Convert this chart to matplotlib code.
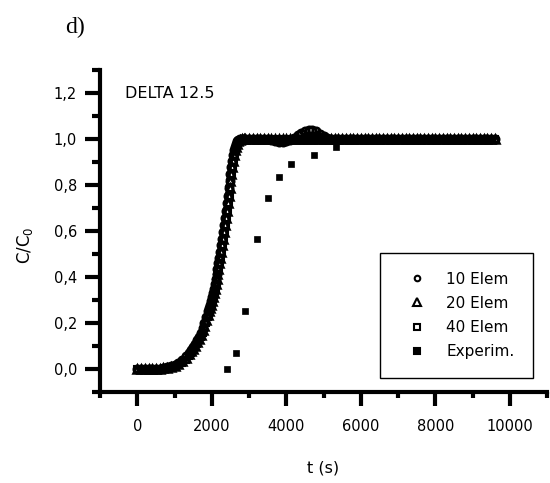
import matplotlib
matplotlib.use('Agg')
import matplotlib.pyplot as plt
from matplotlib.ticker import MultipleLocator, FuncFormatter

# simulated curves (time grid in s)
t_sim = [0, 100, 200, 300, 400, 500, 600, 700, 800, 900, 1000, 1100, 1200, 1300, 1400,
         1450, 1500, 1550, 1600, 1650, 1700, 1750, 1800, 1850, 1900,
         1925, 1950, 1975, 2000, 2025, 2050, 2075, 2100, 2125, 2150, 2175, 2200, 2225, 2250,
         2275, 2300, 2325, 2350, 2375, 2400, 2425, 2450, 2475, 2500, 2525, 2550, 2575, 2600,
         2625, 2650, 2675, 2700, 2750, 2800, 2850, 2900,
         3000, 3100, 3200, 3300, 3400, 3500, 3600, 3700, 3800, 3900, 4000, 4100, 4200, 4300,
         4400, 4500, 4600, 4700, 4800, 4900, 5000, 5100, 5200, 5300, 5400, 5500, 5600, 5700,
         5800, 5900, 6000, 6100, 6200, 6300, 6400, 6500, 6600, 6700, 6800, 6900, 7000, 7100,
         7200, 7300, 7400, 7500, 7600, 7700, 7800, 7900, 8000, 8100, 8200, 8300, 8400, 8500,
         8600, 8700, 8800, 8900, 9000, 9100, 9200, 9300, 9400, 9500, 9600]

c_10 = [0, 0, 0, 0, 0, 0, 0.001, 0.003, 0.006, 0.011, 0.018, 0.027, 0.04, 0.056, 0.07,
        0.082, 0.094, 0.108, 0.123, 0.139, 0.157, 0.177, 0.199, 0.223, 0.25,
        0.264, 0.279, 0.295, 0.312, 0.33, 0.349, 0.369, 0.39, 0.412, 0.435, 0.459, 0.484, 0.51, 0.537,
        0.565, 0.594, 0.624, 0.655, 0.687, 0.72, 0.753, 0.786, 0.818, 0.849, 0.878, 0.905, 0.929, 0.95,
        0.967, 0.98, 0.989, 0.994, 0.999, 1.0, 1.0, 1.0,
        1.0, 1.0, 1.0, 1.0, 1.0, 0.998, 0.994, 0.989, 0.985, 0.985, 0.989, 0.996, 1.005, 1.016,
        1.027, 1.035, 1.04, 1.039, 1.033, 1.022, 1.011, 1.004, 1.0, 1.0, 1.0, 1.0, 1.0, 1.0,
        1.0, 1.0, 1.0, 1.0, 1.0, 1.0, 1.0, 1.0, 1.0, 1.0, 1.0, 1.0, 1.0, 1.0,
        1.0, 1.0, 1.0, 1.0, 1.0, 1.0, 1.0, 1.0, 1.0, 1.0, 1.0, 1.0, 1.0, 1.0,
        1.0, 1.0, 1.0, 1.0, 1.0, 1.0, 1.0, 1.0, 1.0, 1.0, 1.0]

c_20 = [0, 0, 0, 0, 0, 0, 0.001, 0.002, 0.004, 0.008, 0.014, 0.022, 0.033, 0.047, 0.065,
        0.076, 0.088, 0.101, 0.115, 0.131, 0.148, 0.167, 0.188, 0.211, 0.236,
        0.25, 0.264, 0.279, 0.295, 0.312, 0.33, 0.349, 0.369, 0.39, 0.412, 0.435, 0.459, 0.484, 0.51,
        0.537, 0.565, 0.594, 0.624, 0.655, 0.687, 0.72, 0.753, 0.786, 0.818, 0.849, 0.878, 0.905, 0.929,
        0.95, 0.967, 0.98, 0.989, 0.997, 1.0, 1.0, 1.0,
        1.0, 1.0, 1.0, 1.0, 1.0, 1.0, 1.0, 1.0, 1.0, 1.0, 1.0, 1.0, 1.0, 1.0,
        1.0, 1.0, 1.0, 1.0, 1.0, 1.0, 1.0, 1.0, 1.0, 1.0, 1.0, 1.0, 1.0, 1.0,
        1.0, 1.0, 1.0, 1.0, 1.0, 1.0, 1.0, 1.0, 1.0, 1.0, 1.0, 1.0, 1.0, 1.0,
        1.0, 1.0, 1.0, 1.0, 1.0, 1.0, 1.0, 1.0, 1.0, 1.0, 1.0, 1.0, 1.0, 1.0,
        1.0, 1.0, 1.0, 1.0, 1.0, 1.0, 1.0, 1.0, 1.0, 1.0, 1.0]

c_40 = [0, 0, 0, 0, 0, 0, 0, 0.001, 0.003, 0.006, 0.011, 0.018, 0.027, 0.04, 0.056,
        0.07, 0.082, 0.094, 0.108, 0.123, 0.139, 0.157, 0.177, 0.199, 0.223,
        0.236, 0.25, 0.264, 0.279, 0.295, 0.312, 0.33, 0.349, 0.369, 0.39, 0.412, 0.435, 0.459, 0.484,
        0.51, 0.537, 0.565, 0.594, 0.624, 0.655, 0.687, 0.72, 0.753, 0.786, 0.818, 0.849, 0.878, 0.905,
        0.929, 0.95, 0.967, 0.98, 0.993, 0.999, 1.0, 1.0,
        1.0, 1.0, 1.0, 1.0, 1.0, 1.0, 1.0, 1.0, 1.0, 1.0, 1.0, 1.0, 1.0, 1.0,
        1.0, 1.0, 1.0, 1.0, 1.0, 1.0, 1.0, 1.0, 1.0, 1.0, 1.0, 1.0, 1.0, 1.0,
        1.0, 1.0, 1.0, 1.0, 1.0, 1.0, 1.0, 1.0, 1.0, 1.0, 1.0, 1.0, 1.0, 1.0,
        1.0, 1.0, 1.0, 1.0, 1.0, 1.0, 1.0, 1.0, 1.0, 1.0, 1.0, 1.0, 1.0, 1.0,
        1.0, 1.0, 1.0, 1.0, 1.0, 1.0, 1.0, 1.0, 1.0, 1.0, 1.0]

# experimental points
t_exp = [2410, 2655, 2890, 3220, 3520, 3815, 4125, 4755, 5340]
c_exp = [-0.003, 0.067, 0.25, 0.563, 0.741, 0.836, 0.889, 0.929, 0.967]

labels = ['10 Elem', '20 Elem', '40 Elem', 'Experim.']

fig = plt.figure(figsize=(5.5, 4.83), dpi=100)
ax = fig.add_axes([0.182, 0.189, 0.8127, 0.666])

ax.plot(t_sim, c_10, 'o', ms=5.2, mfc='none', mec='black', mew=2.0, label=labels[0])
ax.plot(t_sim, c_20, '^', ms=5.4, mfc='none', mec='black', mew=1.8, label=labels[1])
ax.plot(t_sim, c_40, 's', ms=4.6, mfc='none', mec='black', mew=1.5, label=labels[2])
ax.plot(t_exp, c_exp, 's', ms=4.8, mfc='black', mec='black', mew=0.5, label=labels[3])

ax.set_xlim(-1000, 11000)
ax.set_ylim(-0.1, 1.3)

for s in ['top', 'right']:
    ax.spines[s].set_visible(False)
for s in ['left', 'bottom']:
    ax.spines[s].set_linewidth(3)

ax.xaxis.set_major_locator(MultipleLocator(2000))
ax.xaxis.set_minor_locator(MultipleLocator(1000))
ax.yaxis.set_major_locator(MultipleLocator(0.2))
ax.yaxis.set_minor_locator(MultipleLocator(0.1))
ax.yaxis.set_major_formatter(FuncFormatter(lambda v, p: ('%.1f' % v).replace('.', ',')))
ax.xaxis.set_major_formatter(FuncFormatter(lambda v, p: '%d' % v))

ax.tick_params(which='both', direction='out', width=3, labelsize=10.5)
ax.tick_params(axis='x', which='major', length=10, pad=10)
ax.tick_params(axis='x', which='minor', length=4.5)
ax.tick_params(axis='y', which='major', length=10.5, pad=6)
ax.tick_params(axis='y', which='minor', length=5.5)

leg = ax.legend(loc='upper left', bbox_to_anchor=(380 / 550, 1 - 253 / 483),
                bbox_transform=fig.transFigure, fontsize=11, frameon=True,
                fancybox=False, framealpha=1, edgecolor='black', borderpad=1.22,
                labelspacing=0.6, handlelength=2.4, handletextpad=0.7, borderaxespad=0)
leg.get_frame().set_linewidth(1.0)
for h, ms in zip(leg.legend_handles, [4, 6, 5, 5]):
    h.set_markersize(ms)
    h.set_markeredgewidth(1.5)

fig.text(65 / 550, 1 - 27 / 483, 'd)', fontsize=17, family='Liberation Serif', va='center')
fig.text(125 / 550, 1 - 94 / 483, 'DELTA 12.5', fontsize=11.5, va='center')
fig.text(323 / 550, 1 - 468 / 483, 't (s)', fontsize=11.5, ha='center', va='center')
fig.text(25 / 550, 1 - 245 / 483, 'C/C$_\\mathregular{0}$', fontsize=12, rotation=90,
         ha='center', va='center')

fig.savefig('out.png', dpi=100)
